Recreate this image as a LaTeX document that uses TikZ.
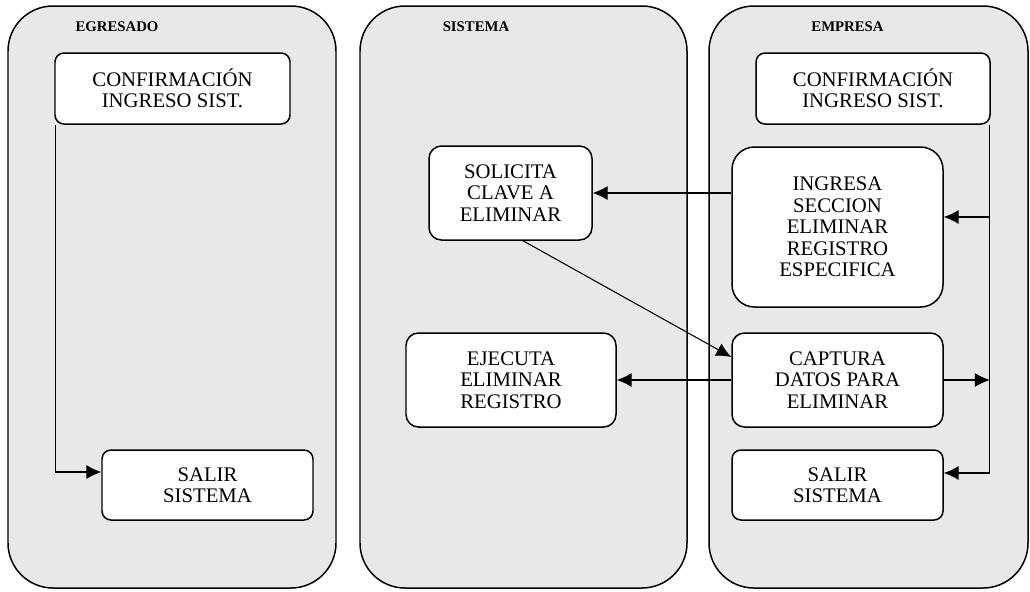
\documentclass[tikz,border=0pt]{standalone}
\usepackage{fontspec}
\setmainfont{Liberation Serif}
\usetikzlibrary{arrows.meta}
\definecolor{lanegray}{RGB}{232,232,232}
\begin{document}
\begin{tikzpicture}[>={Latex[length=8.5pt,width=8pt]}, line width=0.6pt]
	\tikzstyle{lane}=[draw=black, fill=lanegray, line width=0.85pt, rounded corners=0.9cm]
	\tikzstyle{title}=[font=\bfseries\fontsize{8.4}{9}\selectfont]
	\tikzstyle{task}=[draw=black, fill=white, line width=0.85pt, rounded corners=0.18cm, align=center, inner sep=0pt, font=\fontsize{11.8}{12.2}\selectfont]
	\useasboundingbox (0,0) rectangle (20.6,-11.82);
	% Lanes
	\foreach \a/\b in {0.16/6.72, 7.2/13.74, 14.18/20.56}
		\draw [lane] (\a,-0.12) rectangle (\b,-11.76);
	\node at (2.34,-0.54) [title] (egresado) {EGRESADO};
	\node at (9.52,-0.54) [title] (sistema) {SISTEMA};
	\node at (16.95,-0.54) [title] (empresa) {EMPRESA};
	% Egresado
	\node at (3.45,-1.77) [task, minimum width=4.7cm, minimum height=1.42cm] (conf_1) {CONFIRMACIÓN\\INGRESO SIST.};
	\node at (4.15,-9.70) [task, minimum width=4.22cm, minimum height=1.4cm] (salir_1) {SALIR\\SISTEMA};
	% Sistema
	\node at (10.21,-3.86) [task, minimum width=3.26cm, minimum height=1.88cm, rounded corners=0.25cm] (solicita) {SOLICITA\\CLAVE A\\ELIMINAR};
	\node at (10.22,-7.6) [task, minimum width=4.2cm, minimum height=1.88cm, rounded corners=0.25cm] (ejecuta) {EJECUTA\\ELIMINAR\\REGISTRO};
	% Empresa
	\node at (17.46,-1.77) [task, minimum width=4.68cm, minimum height=1.42cm] (conf_3) {CONFIRMACIÓN\\INGRESO SIST.};
	\node at (16.75,-4.54) [task, minimum width=4.22cm, minimum height=3.2cm, rounded corners=0.45cm] (ingresa) {INGRESA\\SECCION\\ELIMINAR\\REGISTRO\\ESPECIFICA};
	\node at (16.75,-7.6) [task, minimum width=4.22cm, minimum height=1.88cm, rounded corners=0.25cm] (captura) {CAPTURA\\DATOS PARA\\ELIMINAR};
	\node at (16.75,-9.70) [task, minimum width=4.22cm, minimum height=1.4cm] (salir_3) {SALIR\\SISTEMA};
	%---------------------%
	% Egresado -> Salir
	\coordinate (in_salir_1) at ([yshift=0.26cm]salir_1.west);
	\draw [->] ([xshift=0.03cm]conf_1.south west) |- (in_salir_1);
	% Empresa bus
	\coordinate (bus) at ([xshift=-0.02cm]conf_3.south east);
	\coordinate (in_ingresa) at ([yshift=0.2cm]ingresa.east);
	\coordinate (in_salir_3) at ([yshift=0.24cm]salir_3.east);
	\draw [->] (bus) |- (in_salir_3);
	\draw [->] (bus |- in_ingresa) -- (in_ingresa);
	\draw [->] (captura.east) -- (captura.east -| bus);
	% Empresa -> Sistema
	\draw [->] (ingresa.west |- solicita.east) -- (solicita.east);
	\draw [->] (captura.west) -- (ejecuta.east);
	\draw [->] ([xshift=0.25cm]solicita.south) -- ([yshift=0.46cm]captura.west);
\end{tikzpicture}
\end{document}
